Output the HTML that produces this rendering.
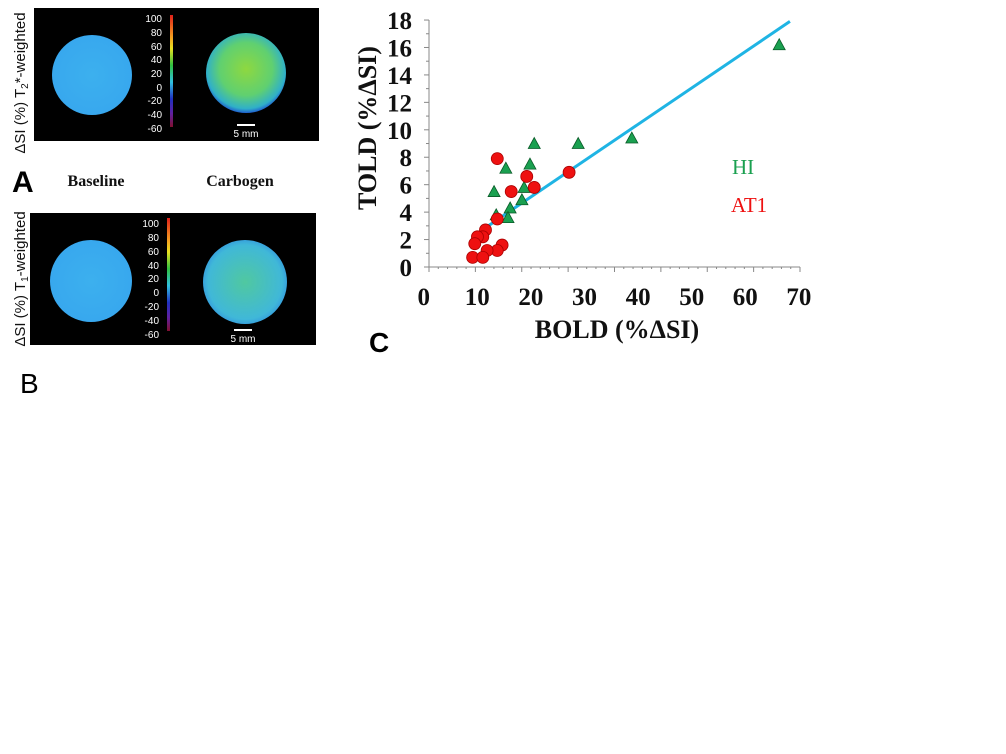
<!DOCTYPE html>
<html><head><meta charset="utf-8"><style>
body{margin:0;background:#fff;width:1006px;height:754px;overflow:hidden;}
svg{display:block;}
</style></head><body>
<svg width="1006" height="754" viewBox="0 0 1006 754" xmlns="http://www.w3.org/2000/svg">
<defs>
<linearGradient id="cb" x1="0" y1="0" x2="0" y2="1">
<stop offset="0" stop-color="#e0201a"/><stop offset="0.2" stop-color="#f5a020"/><stop offset="0.3" stop-color="#e8e020"/><stop offset="0.45" stop-color="#30c040"/><stop offset="0.6" stop-color="#30c0e0"/><stop offset="0.75" stop-color="#2030c0"/><stop offset="0.88" stop-color="#6020a0"/><stop offset="1" stop-color="#801030"/>
</linearGradient>
<radialGradient id="carbA" cx="0.5" cy="0.45" r="0.55"><stop offset="0" stop-color="#8ed840"/><stop offset="0.6" stop-color="#60d070"/><stop offset="0.9" stop-color="#30b0c8"/><stop offset="1" stop-color="#2060d0"/></radialGradient>
<radialGradient id="carbB" cx="0.5" cy="0.5" r="0.55"><stop offset="0" stop-color="#50c8a0"/><stop offset="0.8" stop-color="#40b8d8"/><stop offset="1" stop-color="#3090e0"/></radialGradient>
<radialGradient id="base" cx="0.5" cy="0.5" r="0.55"><stop offset="0" stop-color="#3cb0ee"/><stop offset="0.9" stop-color="#38a8ee"/><stop offset="1" stop-color="#2a70e0"/></radialGradient>
</defs>

<!-- Panel A -->
<g>
<rect x="34" y="8" width="285" height="133" fill="#000"/>
<circle cx="92" cy="75" r="40" fill="url(#base)"/>
<circle cx="246" cy="73" r="40" fill="url(#carbA)"/>
<rect x="170" y="15" width="3" height="112" fill="url(#cb)"/>
<g font-family="Liberation Sans, sans-serif" font-size="10" fill="#fff" text-anchor="end">
<text x="162" y="22">100</text><text x="162" y="36">80</text><text x="162" y="50">60</text><text x="162" y="63">40</text><text x="162" y="77">20</text><text x="162" y="91">0</text><text x="162" y="104">-20</text><text x="162" y="118">-40</text><text x="162" y="132">-60</text>
</g>
<rect x="237" y="124" width="18" height="2" fill="#fff"/>
<text x="246" y="137" font-family="Liberation Sans, sans-serif" font-size="10" fill="#fff" text-anchor="middle">5 mm</text>
<text transform="translate(25,83) rotate(-90)" font-family="Liberation Sans, sans-serif" font-size="15" fill="#111" text-anchor="middle">ΔSI (%) T<tspan font-size="10" dy="3">2</tspan><tspan dy="-3">*-weighted</tspan></text>
<text x="12" y="192" font-family="Liberation Sans, sans-serif" font-size="30" font-weight="bold" fill="#000">A</text>
<text x="96" y="186" font-family="Liberation Serif, serif" font-size="16" font-weight="bold" fill="#111" text-anchor="middle">Baseline</text>
<text x="240" y="186" font-family="Liberation Serif, serif" font-size="16" font-weight="bold" fill="#111" text-anchor="middle">Carbogen</text>
</g>

<!-- Panel B -->
<g>
<rect x="30" y="213" width="286" height="132" fill="#000"/>
<circle cx="91" cy="281" r="41" fill="url(#base)"/>
<circle cx="245" cy="282" r="42" fill="url(#carbB)"/>
<rect x="167" y="218" width="3" height="113" fill="url(#cb)"/>
<g font-family="Liberation Sans, sans-serif" font-size="10" fill="#fff" text-anchor="end">
<text x="159" y="227">100</text><text x="159" y="241">80</text><text x="159" y="255">60</text><text x="159" y="269">40</text><text x="159" y="282">20</text><text x="159" y="296">0</text><text x="159" y="310">-20</text><text x="159" y="324">-40</text><text x="159" y="338">-60</text>
</g>
<rect x="234" y="329" width="18" height="2" fill="#fff"/>
<text x="243" y="342" font-family="Liberation Sans, sans-serif" font-size="10" fill="#fff" text-anchor="middle">5 mm</text>
<text transform="translate(25,279) rotate(-90)" font-family="Liberation Sans, sans-serif" font-size="15" fill="#111" text-anchor="middle">ΔSI (%) T<tspan font-size="10" dy="3">1</tspan><tspan dy="-3">-weighted</tspan></text>
<text x="20" y="393" font-family="Liberation Sans, sans-serif" font-size="28" fill="#000">B</text>
</g>

<!-- Panel C -->
<g id="chart"></g>
<text x="369" y="352" font-family="Liberation Sans, sans-serif" font-size="28" font-weight="bold" fill="#000">C</text>
</svg>
<script>
const xTicks=[0,10,20,30,40,50,60,70];
const yTicks=[0,2,4,6,8,10,12,14,16,18];
const hiX=[66.7,39.2,29.2,21.0,20.2,15.7,19.1,13.5,18.7,16.5,16.1,13.9];
const hiY=[16.2,9.4,9.0,9.0,7.5,7.2,5.8,5.5,4.9,4.3,3.6,3.8];
const at1X=[14.1,19.6,27.5,21.0,16.7,14.1,11.9,11.4,10.4,9.9,15.0,14.1,12.2,9.5,11.4];
const at1Y=[7.9,6.6,6.9,5.8,5.5,3.5,2.7,2.2,2.2,1.7,1.6,1.2,1.2,0.7,0.7];
const fitX=[10.9,68.7];
const fitY=[2.6,17.9];

const NS="http://www.w3.org/2000/svg";
const g=document.getElementById('chart');
const X=v=>421.7+v*5.36;
const Y=v=>267-v*13.72;
function mk(t,a){const e=document.createElementNS(NS,t);for(const k in a)e.setAttribute(k,a[k]);g.appendChild(e);return e;}

let ax=mk('line',{x1:429,y1:Y(0),x2:800,y2:Y(0),stroke:'#888',"stroke-width":1});


let ay=mk('line',{x1:429,y1:Y(0),x2:429,y2:Y(18),stroke:'#888',"stroke-width":1});


for(let i=0;i<=18;i++){
  let t=mk('line',{x1:429-(i%2?3:5),y1:Y(i),x2:429,y2:Y(i),stroke:'#888'});
  
  
}
for(let i=0;i<=40;i++){
  const px=429+i*(371/40);
  let t=mk('line',{x1:px,y1:Y(0),x2:px,y2:Y(0)+(i%5?2:5),stroke:'#888'});
  
  
}
yTicks.forEach(v=>{
  let t=mk('text',{x:412,y:Y(v)+9,"text-anchor":"end","font-family":"Liberation Serif, serif","font-size":"25","font-weight":"bold",fill:"#111"});
  t.textContent=v;
  
  
});
xTicks.forEach(v=>{
  let t=mk('text',{x:X(v)+2,y:305,"text-anchor":"middle","font-family":"Liberation Serif, serif","font-size":"25","font-weight":"bold",fill:"#111"});
  t.textContent=v;
  
  
});
let xt=mk('text',{x:617,y:338,"text-anchor":"middle","font-family":"Liberation Serif, serif","font-size":"26","font-weight":"bold",fill:"#111"});
xt.textContent="BOLD (%ΔSI)";


let yt=mk('text',{transform:"translate(376,128) rotate(-90)","text-anchor":"middle","font-family":"Liberation Serif, serif","font-size":"26","font-weight":"bold",fill:"#111"});
yt.textContent="TOLD (%ΔSI)";



let fl=mk('line',{x1:X(fitX[0]),y1:Y(fitY[0]),x2:X(fitX[1]),y2:Y(fitY[1]),stroke:'#1fb4e4',"stroke-width":3});



hiX.forEach((x,i)=>{
  const cx=X(x),cy=Y(hiY[i]);
  let p=mk('polygon',{points:`${cx},${cy-6} ${cx+6},${cy+5} ${cx-6},${cy+5}`,fill:'#1aa050',stroke:'#0a5a28',"stroke-width":0.8});
  
  
});
at1X.forEach((x,i)=>{
  let c=mk('circle',{cx:X(x),cy:Y(at1Y[i]),r:6,fill:'#ee1111',stroke:'#a00',"stroke-width":0.8});
  
  
});
let l1=mk('text',{x:732,y:174,"font-family":"Liberation Serif, serif","font-size":"21",fill:"#1aa050"});
l1.textContent="HI";


let l2=mk('text',{x:731,y:212,"font-family":"Liberation Serif, serif","font-size":"21",fill:"#ee1111"});
l2.textContent="AT1";


</script>
</body></html>
